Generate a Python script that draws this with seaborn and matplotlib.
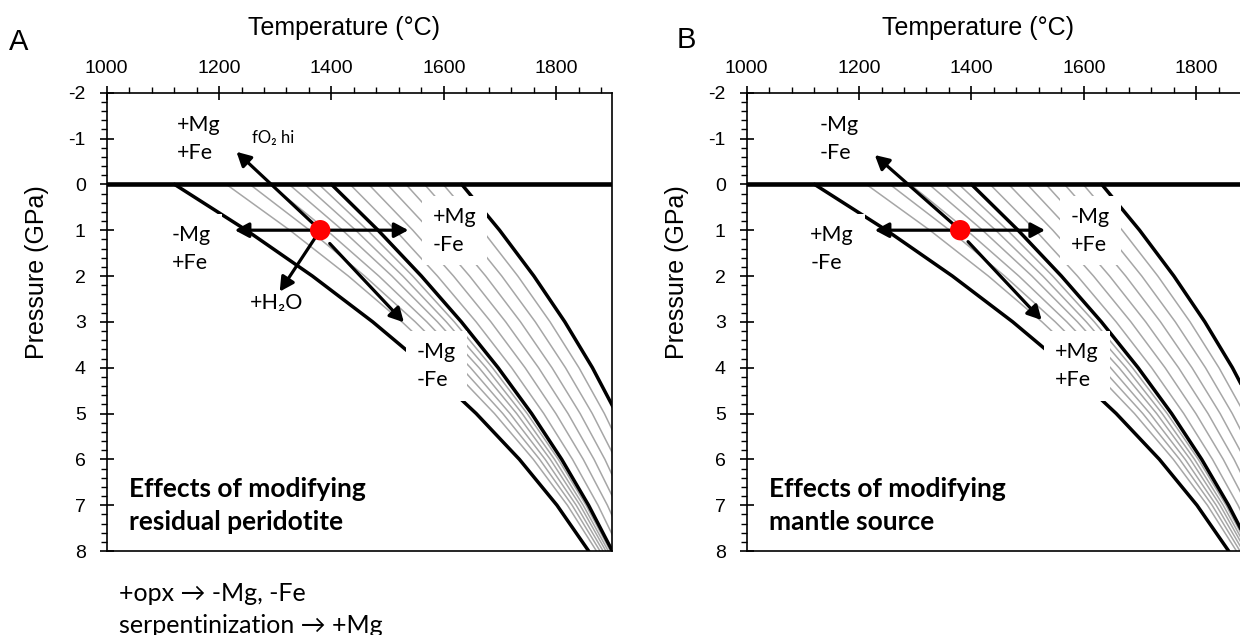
import matplotlib
matplotlib.use("Agg")
import matplotlib.pyplot as plt
from matplotlib.ticker import MultipleLocator
import numpy as np
import pandas as pd
import seaborn as sns

# ---------------- data ----------------
pressure = [0, 1, 2, 3, 4, 5, 6, 7, 8]                      # GPa
solidus = [1120.7, 1248.5, 1366.1, 1473.5, 1570.7, 1657.7, 1734.6, 1801.4, 1857.9]
cpx_out = [1400.0, 1483.0, 1560.1, 1631.3, 1696.7, 1756.3, 1809.9, 1857.7, 1900.0]
liquidus = [1632.0, 1699.3, 1760.4, 1815.5, 1864.6, 1907.5, 1944.4, 1975.1, 1999.8]

melt_low_1 = [1212.9, 1325.9, 1430.1, 1525.6, 1612.3, 1690.2, 1759.4, 1820.0, 1871.8]
melt_low_2 = [1254.8, 1361.1, 1459.2, 1549.2, 1631.2, 1705.0, 1770.7, 1828.4, 1878.1]
melt_low_3 = [1291.1, 1391.5, 1484.4, 1569.8, 1647.6, 1717.8, 1780.5, 1835.7, 1883.6]
melt_low_4 = [1324.6, 1419.7, 1507.7, 1588.7, 1662.7, 1729.7, 1789.6, 1842.5, 1888.6]
melt_low_5 = [1352.5, 1443.1, 1527.1, 1604.5, 1675.3, 1739.5, 1797.1, 1848.1, 1892.8]
melt_low_6 = [1377.7, 1464.2, 1544.6, 1618.7, 1686.6, 1748.4, 1803.9, 1853.2, 1896.6]

melt_high_1 = [1433.1, 1513.9, 1588.7, 1657.6, 1720.7, 1777.9, 1829.1, 1874.5, 1914.0]
melt_high_2 = [1466.3, 1544.8, 1617.3, 1683.9, 1744.7, 1799.5, 1848.3, 1891.2, 1928.3]
melt_high_3 = [1499.4, 1575.7, 1645.9, 1710.2, 1768.7, 1821.1, 1867.5, 1908.0, 1942.6]
melt_high_4 = [1532.6, 1606.6, 1674.6, 1736.6, 1792.6, 1842.7, 1886.8, 1924.8, 1956.9]
melt_high_5 = [1565.7, 1637.5, 1703.2, 1762.9, 1816.6, 1864.3, 1906.0, 1941.6, 1971.2]
melt_high_6 = [1598.9, 1668.4, 1731.8, 1789.2, 1840.6, 1885.9, 1925.2, 1958.3, 1985.5]

# red reference point (T, P)
point_T = [1380]
point_P = [1.0]

# arrows: (T_start, P_start, T_end, P_end)
arrows_A = [
    (1380, 1.0, 1231, -0.71),
    (1380, 1.0, 1228, 1.0),
    (1380, 1.0, 1537, 1.0),
    (1380, 1.0, 1308, 2.34),
    (1397, 1.29, 1529, 3.01),
]
arrows_B = [
    (1380, 1.0, 1228, -0.64),
    (1380, 1.0, 1228, 1.0),
    (1380, 1.0, 1531, 1.0),
    (1394, 1.25, 1525, 2.96),
]

# labels: (text, T_left, P_center, white box)
labels_A = [
    ("+Mg\n+Fe", 1125, -1.0, False),
    ("-Mg\n+Fe", 1116, 1.41, True),
    ("+Mg\n-Fe", 1581, 1.01, True),
    ("-Mg\n-Fe", 1552, 3.96, True),
    ("+H\u2082O", 1255, 2.59, False),
]
labels_B = [
    ("-Mg\n-Fe", 1130, -1.0, False),
    ("+Mg\n-Fe", 1113, 1.41, True),
    ("-Mg\n+Fe", 1577, 1.01, True),
    ("+Mg\n+Fe", 1549, 3.96, True),
]
fo2_label = ("fO\u2082 hi", 1258, -1.02)
title_A = "Effects of modifying\nresidual peridotite"
title_B = "Effects of modifying\nmantle source"
footnote = "+opx \u2192 -Mg, -Fe\nserpentinization \u2192 +Mg"

x_ticks = [1000, 1200, 1400, 1600, 1800]
y_ticks = [-2, -1, 0, 1, 2, 3, 4, 5, 6, 7, 8]

# ---------------- long-form table ----------------
black_curves = {"solidus": solidus, "cpx_out": cpx_out, "liquidus": liquidus}
gray_curves = {
    "low1": melt_low_1, "low2": melt_low_2, "low3": melt_low_3,
    "low4": melt_low_4, "low5": melt_low_5, "low6": melt_low_6,
    "high1": melt_high_1, "high2": melt_high_2, "high3": melt_high_3,
    "high4": melt_high_4, "high5": melt_high_5, "high6": melt_high_6,
}
rows = []
for kind, group in (("black", black_curves), ("gray", gray_curves)):
    for name, temps in group.items():
        for p, t in zip(pressure, temps):
            rows.append({"T": t, "P": p, "curve": name, "kind": kind})
df = pd.DataFrame(rows)

# ---------------- style ----------------
sns.set_style("white")
plt.rcParams["font.family"] = ["Liberation Sans", "DejaVu Sans"]
plt.rcParams["axes.unicode_minus"] = False
plt.rcParams["text.color"] = "black"
plt.rcParams["axes.labelcolor"] = "black"
plt.rcParams["xtick.color"] = "black"
plt.rcParams["ytick.color"] = "black"
LABEL_FONT = ["Lato", "DejaVu Sans"]

fig = plt.figure(figsize=(12.4, 6.35), dpi=100)
W, H = 1240.0, 635.0
ax_left_px = [106.7, 746.7]
ax_w_px, ax_top_px, ax_bot_px = 505.6, 92.7, 551.0

axes = []
for lp in ax_left_px:
    axes.append(fig.add_axes([lp / W, (H - ax_bot_px) / H, ax_w_px / W,
                              (ax_bot_px - ax_top_px) / H]))


def draw_panel(ax, arrows, labels, title, xlabel_x):
    sns.lineplot(data=df[df.kind == "gray"], x="T", y="P", units="curve",
                 estimator=None, sort=False, color="#a6a6a6", lw=1.1,
                 ax=ax, zorder=2)
    sns.lineplot(data=df[df.kind == "black"], x="T", y="P", units="curve",
                 estimator=None, sort=False, color="black", lw=2.5,
                 ax=ax, zorder=2.2)
    ax.axhline(0, color="black", lw=3.3, zorder=3.5)

    for (t0, p0, t1, p1) in arrows:
        ax.annotate("", xy=(t1, p1), xytext=(t0, p0),
                    arrowprops=dict(arrowstyle="-|>,head_length=0.6,head_width=0.32",
                                    mutation_scale=14, lw=2.3, color="black",
                                    shrinkA=0, shrinkB=0),
                    zorder=5)
    sns.scatterplot(x=point_T, y=point_P, color="#ff0000", s=215,
                    edgecolor="none", legend=False, ax=ax, zorder=6)

    for (txt, t, p, box) in labels:
        kw = {}
        if box:
            kw["bbox"] = dict(boxstyle="square,pad=0.5", fc="white", ec="none")
        ax.text(t, p, txt, ha="left", va="center", fontsize=15.5,
                family=LABEL_FONT, linespacing=1.5, zorder=3, color="black", **kw)
    ax.text(1039, 7.0, title, ha="left", va="center", fontsize=19,
            fontweight="bold", family=LABEL_FONT, linespacing=1.45, zorder=3,
            color="black")

    ax.set_xlim(1000, 1900)
    ax.set_ylim(8, -2)
    ax.xaxis.set_ticks_position("top")
    ax.xaxis.set_label_position("top")
    ax.set_xticks(x_ticks)
    ax.set_yticks(y_ticks)
    ax.xaxis.set_minor_locator(MultipleLocator(40))
    ax.yaxis.set_minor_locator(MultipleLocator(0.2))
    ax.tick_params(axis="x", which="major", direction="inout", length=10, width=1.2,
                   pad=6, labelsize=14, top=True, bottom=False, colors="black")
    ax.tick_params(axis="x", which="minor", direction="out", length=4, width=1,
                   top=True, bottom=False, colors="black")
    ax.tick_params(axis="y", which="major", direction="inout", length=10, width=1.2,
                   pad=10, labelsize=14, left=True, right=False, colors="black")
    ax.tick_params(axis="y", which="minor", direction="out", length=4.5, width=1,
                   left=True, right=False, colors="black")
    for s in ax.spines.values():
        s.set_color("black")
        s.set_linewidth(1.2)
    ax.set_xlabel("Temperature (\u00b0C)", fontsize=18, color="black")
    ax.set_ylabel("Pressure (GPa)", fontsize=18, color="black")
    ax.xaxis.set_label_coords(xlabel_x, 1.126)
    ax.yaxis.set_label_coords(-0.114, 0.608)
    ax.set_facecolor("white")


draw_panel(axes[0], arrows_A, labels_A, title_A, 0.469)
draw_panel(axes[1], arrows_B, labels_B, title_B, 0.4575)

axes[0].text(fo2_label[1], fo2_label[2], fo2_label[0], ha="left", va="center",
             fontsize=12, family=LABEL_FONT, zorder=3, color="black")

fig.text(19 / W, 1 - 42 / H, "A", fontsize=21, ha="center", va="center", color="black")
fig.text(686 / W, 1 - 40 / H, "B", fontsize=21, ha="center", va="center", color="black")
fig.text(119 / W, 1 - 609.5 / H, footnote, fontsize=18, family=LABEL_FONT,
         ha="left", va="center", linespacing=1.45, color="black")

fig.savefig("out.png", dpi=100)
